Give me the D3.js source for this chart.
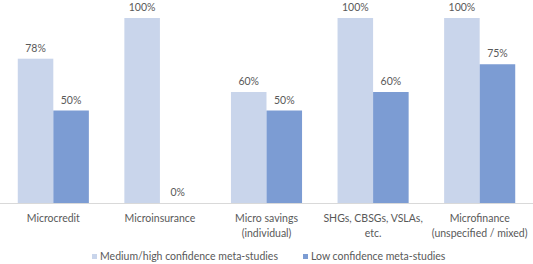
<!DOCTYPE html>
<html>
<head>
<meta charset="utf-8">
<script src="https://cdn.jsdelivr.net/npm/d3@7"></script>
<style>
  body { margin: 0; background: #fff; }
  text { font-family: Lato, "Open Sans", sans-serif; fill: #595959; }
</style>
</head>
<body>
<div id="chart"></div>
<script>
// data ----------------------------------------------------------------
const categories = [
  ['Microcredit'],
  ['Microinsurance'],
  ['Micro savings', '(individual)'],
  ['SHGs, CBSGs, VSLAs,', 'etc.'],
  ['Microfinance', '(unspecified / mixed)']
];
const seriesNames = ['Medium/high confidence meta-studies', 'Low confidence meta-studies'];
const mediumHigh = [78, 100, 60, 100, 100];
const low = [50, 0, 50, 60, 75];
const colors = ['#c9d5eb', '#7c9cd3'];

// layout --------------------------------------------------------------
const width = 533;
const height = 264;
const baseY = 203;
const topY = 18;
const fontSize = '10.5px';

const svg = d3.select('#chart').append('svg')
  .attr('width', width)
  .attr('height', height);

const x0 = d3.scaleBand()
  .domain(d3.range(categories.length))
  .range([0, width])
  .paddingInner(0.333)
  .paddingOuter(0.1667);

const x1 = d3.scaleBand()
  .domain([0, 1])
  .range([0, x0.bandwidth()]);

const y = d3.scaleLinear()
  .domain([0, 100])
  .range([baseY, topY]);

const rows = categories.map((c, i) => ({ i, values: [mediumHigh[i], low[i]] }));

// bars ----------------------------------------------------------------
const group = svg.selectAll('.grp')
  .data(rows)
  .enter()
  .append('g')
  .attr('class', 'grp')
  .attr('transform', d => 'translate(' + x0(d.i) + ',0)');

group.selectAll('rect')
  .data(d => d.values.map((v, s) => ({ v, s })))
  .enter()
  .append('rect')
  .attr('x', d => x1(d.s))
  .attr('y', d => y(d.v))
  .attr('width', x1.bandwidth())
  .attr('height', d => baseY - y(d.v))
  .attr('fill', d => colors[d.s]);

group.selectAll('.val')
  .data(d => d.values.map((v, s) => ({ v, s })))
  .enter()
  .append('text')
  .attr('class', 'val')
  .attr('x', d => x1(d.s) + x1.bandwidth() / 2)
  .attr('y', d => y(d.v) - 7)
  .attr('text-anchor', 'middle')
  .attr('font-size', fontSize)
  .text(d => d.v + '%');

// axis ----------------------------------------------------------------
svg.append('line')
  .attr('x1', 0)
  .attr('x2', width)
  .attr('y1', baseY + 0.5)
  .attr('y2', baseY + 0.5)
  .attr('stroke', '#d9d9d9')
  .attr('stroke-width', 1);

const labels = svg.selectAll('.cat')
  .data(categories)
  .enter()
  .append('text')
  .attr('class', 'cat')
  .attr('text-anchor', 'middle')
  .attr('font-size', fontSize)
  .attr('transform', (d, i) => 'translate(' + (x0(i) + x0.bandwidth() / 2) + ',222)');

labels.selectAll('tspan')
  .data(d => d)
  .enter()
  .append('tspan')
  .attr('x', 0)
  .attr('y', (d, i) => i * 15)
  .text(d => d);

// legend --------------------------------------------------------------
const legendX = [92, 303];
const legend = svg.selectAll('.leg')
  .data(seriesNames)
  .enter()
  .append('g')
  .attr('class', 'leg')
  .attr('transform', (d, i) => 'translate(' + legendX[i] + ',254)');

legend.append('rect')
  .attr('width', 5)
  .attr('height', 5)
  .attr('fill', (d, i) => colors[i]);

legend.append('text')
  .attr('x', 8)
  .attr('y', 6)
  .attr('font-size', fontSize)
  .text(d => d);
</script>
</body>
</html>
